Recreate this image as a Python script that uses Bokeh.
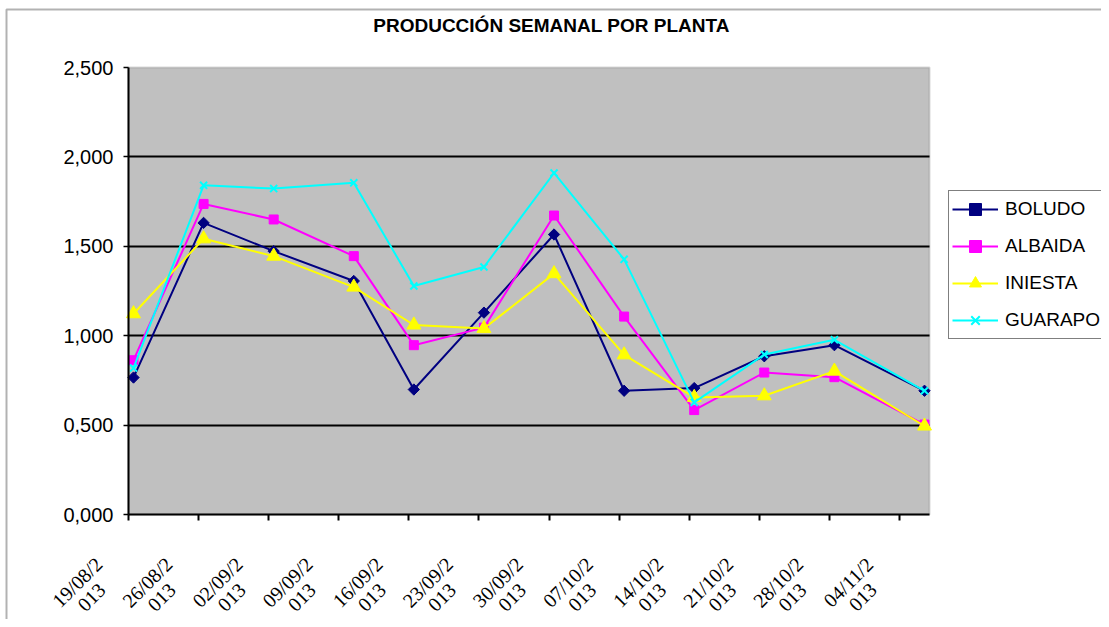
import math
import pandas as pd
from bokeh.plotting import figure
from bokeh.models import (Range1d, FixedTicker, Legend, LegendItem, LabelSet, Label,
                          BoxAnnotation, ColumnDataSource)
from bokeh.embed import file_html
from bokeh.resources import INLINE

# ---------------- data ----------------
week_labels = ["19/08/2013", "26/08/2013", "02/09/2013", "09/09/2013", "16/09/2013", "23/09/2013",
               "30/09/2013", "07/10/2013", "14/10/2013", "21/10/2013", "28/10/2013", "04/11/2013"]
sample_dates = ["2013-08-19", "2013-08-26", "2013-09-02", "2013-09-10", "2013-09-16", "2013-09-23",
                "2013-09-30", "2013-10-07", "2013-10-14", "2013-10-21", "2013-10-28", "2013-11-06"]
boludo = [0.766, 1.631, 1.473, 1.306, 0.699, 1.129, 1.566, 0.692, 0.707, 0.885, 0.947, 0.692]
albaida = [0.863, 1.737, 1.650, 1.445, 0.947, 1.045, 1.672, 1.107, 0.584, 0.794, 0.768, 0.503]
iniesta = [1.123, 1.542, 1.445, 1.272, 1.060, 1.040, 1.347, 0.893, 0.655, 0.664, 0.802, 0.495]
guarapo = [0.819, 1.841, 1.823, 1.855, 1.278, 1.384, 1.910, 1.427, 0.627, 0.895, 0.977, 0.692]
y_ticks = [0, 0.5, 1, 1.5, 2, 2.5]
y_tick_labels = ["0,000", "0,500", "1,000", "1,500", "2,000", "2,500"]
series_names = ["BOLUDO", "ALBAIDA", "INIESTA", "GUARAPO"]
title_text = "PRODUCCIÓN SEMANAL POR PLANTA"

# ---------------- layout constants (pixels) ----------------
W, H = 1101, 619
PA_LEFT, PA_RIGHT, PA_TOP, PA_BOTTOM = 128, 929, 67, 514   # plot-area edges
FONT = "Liberation Sans"
DAY = 86400000
NB = "\u00a0"

# ---------------- derived ----------------
x = pd.to_datetime(sample_dates) + pd.Timedelta(hours=12)
week_ts = pd.to_datetime(week_labels, format="%d/%m/%Y")
tick_ms = [int(t.value // 10**6) for t in week_ts]
x_start = tick_ms[0]
x_end = tick_ms[-1] + 3 * DAY
ppx = (PA_RIGHT - PA_LEFT) / (x_end - x_start)          # px per ms
ppy = (PA_BOTTOM - PA_TOP) / (y_ticks[-1] - y_ticks[0])  # px per unit
xr = Range1d(x_start - PA_LEFT / ppx, x_end + (W - PA_RIGHT) / ppx)
yr = Range1d(y_ticks[0] - (H - PA_BOTTOM) / ppy, y_ticks[-1] + PA_TOP / ppy)

p = figure(width=W, height=H, x_axis_type="datetime", x_range=xr, y_range=yr,
           output_backend="svg", toolbar_location=None, title_location=None,
           min_border=0, background_fill_color="white", border_fill_color="white")
p.outline_line_color = None

# plot area
p.add_layout(BoxAnnotation(left=x_start, right=x_end, bottom=y_ticks[0], top=y_ticks[-1],
                           fill_color="#C0C0C0", fill_alpha=1, line_color="#808080",
                           line_width=2, level="image"))

# outer chart border (left and top edges visible)
p.add_layout(BoxAnnotation(left=6, right=W + 50, top=H - 9, bottom=-50,
                           left_units="screen", right_units="screen",
                           top_units="screen", bottom_units="screen",
                           fill_alpha=0, line_color="black", line_width=2, level="overlay"))

# title
p.add_layout(Label(x=551, y=H - 25, x_units="screen", y_units="screen", text=title_text,
                   text_align="center", text_baseline="middle", text_font=FONT,
                   text_font_size="19px", text_font_style="bold", text_color="black"))

# grid
p.xgrid.visible = False
p.ygrid.ticker = FixedTicker(ticks=y_ticks[1:-1])
p.ygrid.cross_bounds = (x_start, x_end)
p.ygrid.grid_line_color = "black"
p.ygrid.grid_line_width = 2

# y axis
ya = p.yaxis[0]
ya.fixed_location = x_start
ya.bounds = (y_ticks[0], y_ticks[-1])
ya.ticker = FixedTicker(ticks=y_ticks)
ya.major_label_overrides = {t: l for t, l in zip(y_ticks, y_tick_labels)}
ya.major_label_text_font = FONT
ya.major_label_text_font_size = "20px"
ya.major_label_text_color = "black"
ya.axis_line_color = "black"
ya.axis_line_width = 2
ya.major_tick_line_color = "black"
ya.major_tick_line_width = 1.5
ya.major_tick_out = 5
ya.major_tick_in = 0
ya.minor_tick_line_color = None
ya.major_label_standoff = 10

# x axis (ticks)
xa = p.xaxis[0]
xa.fixed_location = y_ticks[0]
xa.bounds = (x_start, x_end)
xa.ticker = FixedTicker(ticks=tick_ms)
xa.major_label_overrides = {t: "" for t in tick_ms}
xa.major_label_text_font_size = "0px"
xa.major_label_standoff = 0
xa.axis_line_color = "black"
xa.axis_line_width = 2
xa.major_tick_line_color = "black"
xa.major_tick_line_width = 2
xa.major_tick_out = 6
xa.major_tick_in = 0
xa.minor_tick_line_color = None

# x tick labels, rotated, two lines (second line centred under the first)
lab_text = [f"{s[:7]}\n{NB * 3}{s[7:]}" for s in week_labels]
lab_src = ColumnDataSource(dict(x=tick_ms, text=lab_text))
p.add_layout(LabelSet(source=lab_src, x="x", y=y_ticks[0] - 75 / ppy, text="text",
                      x_offset=-44, angle=math.pi / 4,
                      text_align="center", text_baseline="middle", text_font=FONT,
                      text_font_size="20px", text_line_height=0.93, text_color="black"))

# series
colors = ["#000080", "#FF00FF", "#FFFF00", "#00FFFF"]
values = [boludo, albaida, iniesta, guarapo]
items = []
for name, vals, col in zip(series_names, values, colors):
    ln = p.line(x, vals, line_color=col, line_width=2)
    if name == "BOLUDO":
        mk = p.scatter(x, vals, marker="square", angle=math.pi / 4, size=8,
                       fill_color=col, line_color=col)
    elif name == "ALBAIDA":
        mk = p.scatter(x, vals, marker="square", size=9, fill_color=col, line_color=col)
    elif name == "INIESTA":
        mk = p.scatter(x, vals, marker="triangle", size=14, fill_color=col, line_color=col)
    else:
        mk = p.scatter(x, vals, marker="x", size=10, line_color=col, line_width=2)
    items.append(LegendItem(label=name, renderers=[ln, mk]))

legend = Legend(items=items, location=(948, H - 339))
legend.border_line_color = "black"
legend.border_line_width = 1.5
legend.background_fill_color = "white"
legend.background_fill_alpha = 1
legend.padding = 3
legend.spacing = 7
legend.margin = 0
legend.label_height = 30
legend.glyph_height = 30
legend.glyph_width = 46
legend.label_standoff = 7
legend.label_text_font = FONT
legend.label_text_font_size = "19px"
legend.label_text_color = "black"
p.add_layout(legend)

open("out.html", "w").write(file_html(p, INLINE))
